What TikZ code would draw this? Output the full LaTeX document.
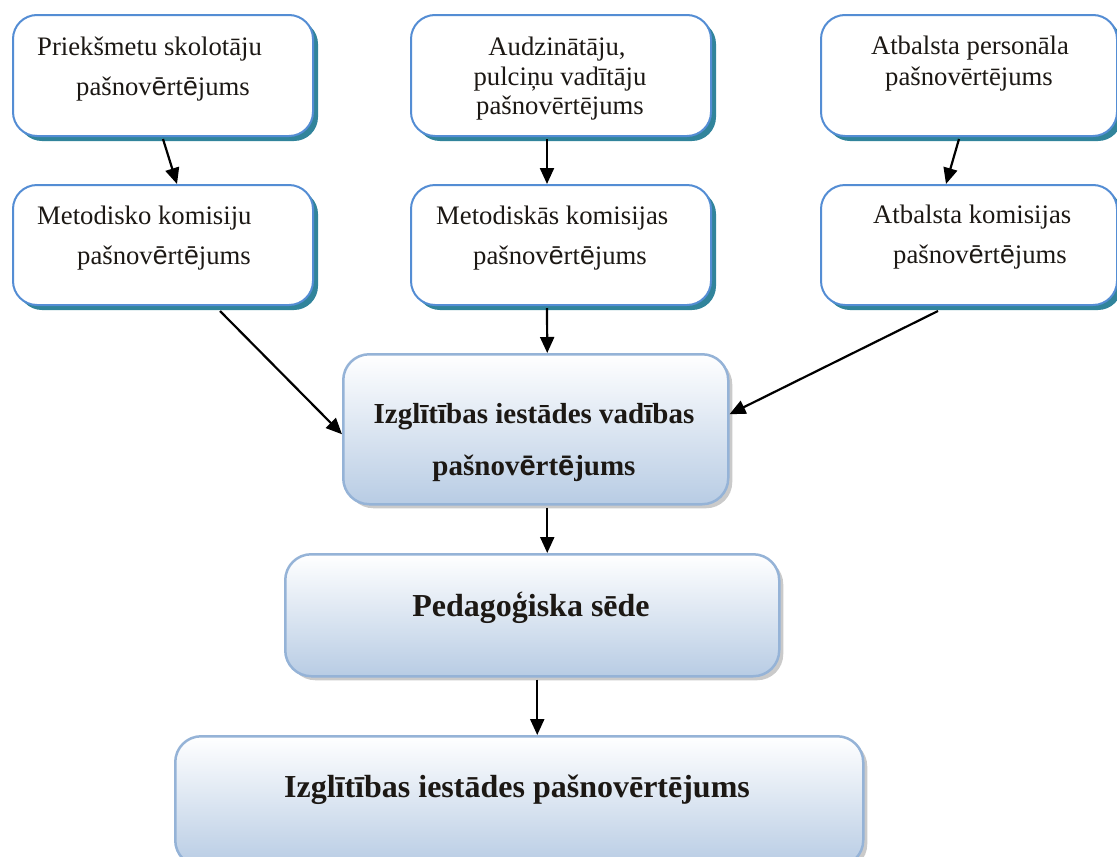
\documentclass[tikz,border=0pt]{standalone}
\usepackage{fontspec}
\setmainfont{Liberation Serif}
\newfontfamily\sansE{Liberation Sans}
\newcommand\ee{{\sansE ē}}
\usetikzlibrary{arrows.meta,shadows}
\definecolor{topblue}{RGB}{84,141,212}
\definecolor{tealshadow}{RGB}{49,132,155}
\definecolor{lowborder}{RGB}{149,179,215}
\definecolor{lowfill}{RGB}{184,204,228}
\definecolor{greyshadow}{RGB}{150,150,150}
\definecolor{inkblack}{RGB}{28,24,20}
\begin{document}
\begin{tikzpicture}[x=1pt,y=-1pt,
  topbox/.style={draw=topblue, line width=2pt, rounded corners=24pt, fill=white,
    anchor=north west, inner sep=0pt, minimum width=300pt, minimum height=121pt,
    general shadow={fill=tealshadow, shadow xshift=5pt, shadow yshift=-5pt}},
  lowbox/.style={draw=lowborder, line width=2.5pt, rounded corners=26pt,
    top color=white, bottom color=lowfill, anchor=north west, inner sep=0pt,
    general shadow={fill=greyshadow, shadow xshift=4pt, shadow yshift=-4pt, opacity=0.5}},
  txt/.style={inner sep=0pt, text=inkblack, font=\fontsize{26.7}{30}\selectfont, anchor=base west},
  ctxt/.style={txt, anchor=base},
  btxt/.style={inner sep=0pt, text=inkblack, font=\fontsize{29}{32}\selectfont\bfseries, anchor=base},
  bigtxt/.style={btxt, font=\fontsize{32}{34}\selectfont\bfseries},
  arr/.style={line width=2.2pt, -{Triangle[length=16pt,width=14pt]}}]
\useasboundingbox (0,0) rectangle (1117,857);

% boxes
\node[topbox] (b1) at (12,14) {};
\node[topbox] (b2) at (410,14) {};
\node[topbox, minimum width=296pt] (b3) at (820,14) {};
\node[topbox, minimum height=120pt] (b4) at (12,184) {};
\node[topbox, minimum height=120pt] (b5) at (410,184) {};
\node[topbox, minimum height=120pt, minimum width=296pt] (b6) at (820,184) {};
\node[lowbox, minimum width=385pt, minimum height=150pt] (cb) at (342,353) {};
\node[lowbox, minimum width=494pt, minimum height=122pt] (ped) at (284,553) {};
\node[lowbox, minimum width=688pt, minimum height=130pt] (fin) at (174,735) {};

% texts
\node[txt] (t1a) at (37,55) {Priekšmetu skolotāju};
\node[txt] (t1b) at (76,95) {pašnov\ee rt\ee jums};
\node[ctxt] (t2a) at (557,55) {Audzinātāju,};
\node[ctxt] (t2b) at (560,85) {pulciņu vadītāju};
\node[ctxt] (t2c) at (560,114) {pašnovērtējums};
\node[ctxt] (t3a) at (970,54) {Atbalsta personāla};
\node[ctxt] (t3b) at (969,85) {pašnovērtējums};
\node[txt] (t4a) at (37,224) {Metodisko komisiju};
\node[txt] (t4b) at (77,264) {pašnov\ee rt\ee jums};
\node[txt] (t5a) at (436,224) {Metodiskās komisijas};
\node[txt] (t5b) at (473,264) {pašnov\ee rt\ee jums};
\node[txt] (t6a) at (873,223) {Atbalsta komisijas};
\node[txt] (t6b) at (893,263) {pašnov\ee rt\ee jums};
\node[btxt] (tca) at (534,423) {Izglītības iestādes vadības};
\node[btxt] (tcb) at (534,475) {pašnov\ee rt\ee jums};
\node[bigtxt] (tp) at (531,616) {Pedagoģiska sēde};
\node[bigtxt] (tf) at (517,797) {Izglītības iestādes pašnovērtējums};

% connectors
\draw[arr] ([yshift=-2pt]b1.south) -- ([xshift=14pt]b4.north);
\draw[arr] ([xshift=-14pt,yshift=-2pt]b2.south) -- ([xshift=-14pt]b5.north);
\draw[arr] ([xshift=-10pt,yshift=-2pt]b3.south) -- ([xshift=-23pt]b6.north);
\draw[arr] ([xshift=57pt,yshift=-5pt]b4.south) -- ([yshift=-5pt]cb.west);
\draw[arr] ([xshift=-14pt,yshift=-2pt]b5.south) -- ([xshift=11.5pt]cb.north);
\draw[arr] ([xshift=-31pt,yshift=-5pt]b6.south) -- ([yshift=15pt]cb.east);
\draw[arr] ([xshift=11.5pt,yshift=-2pt]cb.south) -- ([xshift=15pt]ped.north);
\draw[arr] ([xshift=5pt,yshift=-2pt]ped.south) -- ([xshift=18pt]fin.north);
\end{tikzpicture}
\end{document}
